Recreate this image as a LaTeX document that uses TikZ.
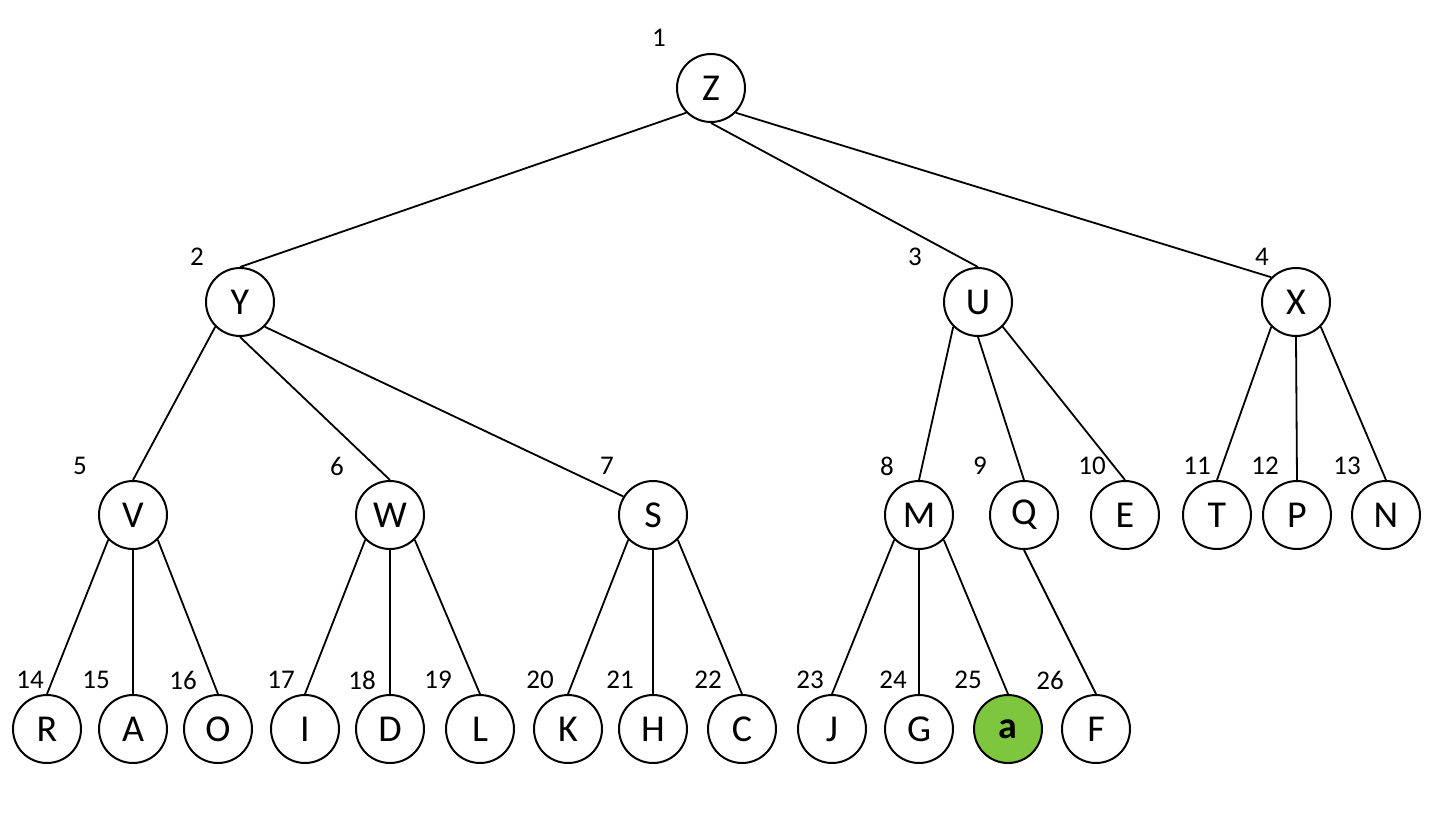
\documentclass[tikz,border=0pt]{standalone}
\usepackage{fontspec}
\setmainfont{Carlito}
\definecolor{leafgreen}{RGB}{126,198,62}
\tikzset{
  tn/.style={circle,draw=black,line width=1pt,minimum size=34pt,inner sep=0pt,fill=white,font=\fontsize{19}{21}\selectfont},
  hl/.style={tn,fill=leafgreen,font=\fontsize{19}{21}\selectfont\bfseries},
  num/.style={font=\fontsize{13.5}{15}\selectfont,inner sep=0pt},
  edge/.style={line width=0.9pt}
}
\begin{document}
\begin{tikzpicture}[x=0.5pt,y=-0.5pt]
\useasboundingbox (0,0) rectangle (1432,826);
% level 1
\node[tn] (Z) at (711,88) {Z};
% level 2
\node[tn] (Y) at (240,302) {Y};
\node[tn] (U) at (978,302) {U};
\node[tn] (X) at (1296,302) {X};
% level 3
\node[tn] (V) at (133,515) {V};
\node[tn] (W) at (390,515) {W};
\node[tn] (S) at (653,515) {S};
\node[tn] (M) at (919,515) {M};
\node[tn] (Q) at (1024,515) {Q};
\node[tn] (E) at (1125,515) {E};
\node[tn] (T) at (1217,515) {T};
\node[tn] (P) at (1297,515) {P};
\node[tn] (N) at (1386,515) {N};
% level 4
\node[tn] (R) at (47,729) {R};
\node[tn] (A) at (133,729) {A};
\node[tn] (O) at (218,729) {O};
\node[tn] (I) at (305,729) {I};
\node[tn] (D) at (390,729) {D};
\node[tn] (L) at (480,729) {L};
\node[tn] (K) at (568,729) {K};
\node[tn] (H) at (653,729) {H};
\node[tn] (C) at (742,729) {C};
\node[tn] (J) at (832,729) {J};
\node[tn] (G) at (919,729) {G};
\node[hl] (a) at (1008,729) {a};
\node[tn] (F) at (1096,729) {F};
% numbers
\node[num] (n1) at (659,38) {1};
\node[num] (n2) at (197,257) {2};
\node[num] (n3) at (915,257) {3};
\node[num] (n4) at (1262,257) {4};
\node[num] (n5) at (80,466) {5};
\node[num] (n6) at (337,466) {6};
\node[num] (n7) at (607,466) {7};
\node[num] (n8) at (887,466) {8};
\node[num] (n9) at (980,466) {9};
\node[num] (n10) at (1092,466) {10};
\node[num] (n11) at (1197,466) {11};
\node[num] (n12) at (1265,466) {12};
\node[num] (n13) at (1347,466) {13};
\node[num] (n14) at (30,680) {14};
\node[num] (n15) at (96,680) {15};
\node[num] (n16) at (183,680) {16};
\node[num] (n17) at (281,680) {17};
\node[num] (n18) at (362,680) {18};
\node[num] (n19) at (438,680) {19};
\node[num] (n20) at (540,680) {20};
\node[num] (n21) at (620,680) {21};
\node[num] (n22) at (708,680) {22};
\node[num] (n23) at (810,680) {23};
\node[num] (n24) at (893,680) {24};
\node[num] (n25) at (968,680) {25};
\node[num] (n26) at (1050,680) {26};
% edges
\draw[edge] (Z.south west) -- (Y.north);
\draw[edge] (Z.south) -- (U.north);
\draw[edge] (Z.south east) -- (X.135);
\draw[edge] (Y.south west) -- (V.north);
\draw[edge] (Y.south) -- (W.north);
\draw[edge] (Y.south east) -- (S.148);
\draw[edge] (U.south west) -- (M.north);
\draw[edge] (U.south) -- (Q.north);
\draw[edge] (U.south east) -- (E.north);
\draw[edge] (X.south west) -- (T.north);
\draw[edge] (X.south) -- (P.north);
\draw[edge] (X.south east) -- (N.north);
\draw[edge] (V.south west) -- (R.north);
\draw[edge] (V.south) -- (A.north);
\draw[edge] (V.south east) -- (O.north);
\draw[edge] (W.south west) -- (I.north);
\draw[edge] (W.south) -- (D.north);
\draw[edge] (W.south east) -- (L.north);
\draw[edge] (S.south west) -- (K.north);
\draw[edge] (S.south) -- (H.north);
\draw[edge] (S.south east) -- (C.north);
\draw[edge] (M.south west) -- (J.north);
\draw[edge] (M.south) -- (G.north);
\draw[edge] (M.south east) -- (a.north);
\draw[edge] (Q.south) -- (F.north);
\end{tikzpicture}
\end{document}
